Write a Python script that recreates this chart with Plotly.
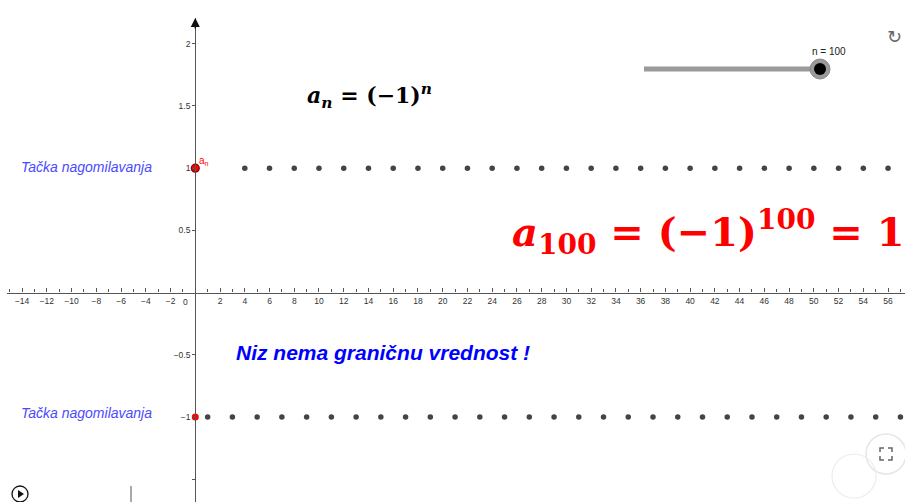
import plotly.graph_objects as go

# ---- data ----
odd_n = [1, 3, 5, 7, 9, 11, 13, 15, 17, 19, 21, 23, 25, 27, 29, 31, 33, 35, 37, 39,
         41, 43, 45, 47, 49, 51, 53, 55, 57]
odd_a = [-1, -1, -1, -1, -1, -1, -1, -1, -1, -1, -1, -1, -1, -1, -1, -1, -1, -1, -1, -1,
         -1, -1, -1, -1, -1, -1, -1, -1, -1]
even_n = [4, 6, 8, 10, 12, 14, 16, 18, 20, 22, 24, 26, 28, 30, 32, 34, 36, 38, 40, 42,
          44, 46, 48, 50, 52, 54, 56]
even_a = [1, 1, 1, 1, 1, 1, 1, 1, 1, 1, 1, 1, 1, 1, 1, 1, 1, 1, 1, 1,
          1, 1, 1, 1, 1, 1, 1]
acc_x = [0, 0]          # accumulation points drawn on the y-axis
acc_y = [1, -1]
x_ticks = [-14, -12, -10, -8, -6, -4, -2, 2, 4, 6, 8, 10, 12, 14, 16, 18, 20, 22, 24, 26,
           28, 30, 32, 34, 36, 38, 40, 42, 44, 46, 48, 50, 52, 54, 56]
y_ticks = [-1.5, -1, -0.5, 0.5, 1, 1.5, 2]
y_tick_text = ["", "\u22121", "\u22120.5", "0.5", "1", "1.5", "2"]
n_value = 100

W, H = 905, 502
def px(x):
    return x / W
def py(y):
    return 1 - y / H

fig = go.Figure()
fig.add_trace(go.Scatter(x=odd_n, y=odd_a, mode="markers",
                         marker=dict(color="#444444", size=5.5), hoverinfo="skip",
                         cliponaxis=False))
fig.add_trace(go.Scatter(x=even_n, y=even_a, mode="markers",
                         marker=dict(color="#444444", size=5.5), hoverinfo="skip",
                         cliponaxis=False))
fig.add_trace(go.Scatter(x=acc_x[:1], y=acc_y[:1], mode="markers",
                         marker=dict(color="#ff0000", size=8, line=dict(color="#8b0000", width=1.2)),
                         hoverinfo="skip", cliponaxis=False))
fig.add_trace(go.Scatter(x=acc_x[1:], y=acc_y[1:], mode="markers",
                         marker=dict(color="#ff0000", size=7), hoverinfo="skip", cliponaxis=False))

tickfont = dict(family="Liberation Sans, Arial, sans-serif", size=8.5, color="#333333")
fig.update_layout(
    width=W, height=H, margin=dict(l=0, r=0, t=0, b=0, pad=0, autoexpand=False),
    paper_bgcolor="white", plot_bgcolor="white", showlegend=False,
    xaxis=dict(domain=[7 / W, 1], range=[-15.22, 57.37], anchor="free", position=0.4173,
               automargin=False,
               showgrid=False, zeroline=False, showline=True, linecolor="#555555", linewidth=1.3,
               tickmode="array", tickvals=x_ticks, ticks="inside", ticklen=4, tickcolor="#555555",
               minor=dict(dtick=1, tick0=0, ticks="inside", ticklen=3, tickcolor="#555555"),
               tickfont=tickfont, fixedrange=True),
    yaxis=dict(domain=[0, 1 - 18 / H], range=[-1.684, 2.207], anchor="free", position=0.2158,
               automargin=False,
               showgrid=False, zeroline=False, showline=True, linecolor="#555555", linewidth=1.3,
               tickmode="array", tickvals=y_ticks, ticktext=y_tick_text, ticks="outside",
               ticklen=3, tickcolor="#555555", tickfont=tickfont, fixedrange=True),
)

ann = []
def note(x, y, text, font, xanchor="center"):
    ann.append(dict(x=px(x), y=py(y), xref="paper", yref="paper", xanchor=xanchor,
                    yanchor="middle", text=text, showarrow=False, font=font))

# origin label
note(185, 302, "0", tickfont)
# y-axis arrow
ann.append(dict(x=0, y=2.207, xref="x", yref="y", ax=0, ay=12, text="", showarrow=True,
                arrowhead=2, arrowsize=1.3, arrowwidth=1.4, arrowcolor="#111111"))
# point label
note(197, 161, "a<sub>n</sub>", dict(family="Liberation Sans, Arial", size=10, color="#ff0000"),
     xanchor="left")
# accumulation labels
for yy in (167, 413):
    note(19, yy, "<i>Ta\u010dka nagomilavanja</i>",
         dict(family="Liberation Sans, Arial", size=14, color="#4a4aff"), xanchor="left")
# formula
note(305, 96, "<b><i>a</i><sub><i>n</i></sub> = (\u22121)<sup><i>n</i></sup></b>",
     dict(family="DejaVu Serif, serif", size=22, color="#000000"), xanchor="left")
# big red formula
note(510, 232, "<b><i>a</i><sub>%d</sub> = (\u22121)<sup>%d</sup> = 1</b>" % (n_value, n_value),
     dict(family="DejaVu Serif, serif", size=40, color="#ff0000"), xanchor="left")
# blue statement
note(234, 352, "<b><i>Niz nema grani\u010dnu vrednost !</i></b>",
     dict(family="Liberation Sans, Arial", size=21, color="#0000ff"), xanchor="left")
# slider label
note(829, 51, "n = %d" % n_value, dict(family="Liberation Sans, Arial", size=10, color="#222222"))
# refresh icon
note(894, 36, "\u21bb", dict(family="DejaVu Sans", size=18, color="#666666"))
fig.update_layout(annotations=ann)

shapes = []
# slider track
shapes.append(dict(type="line", xref="paper", yref="paper", x0=px(644), y0=py(69), x1=px(820), y1=py(69),
                   line=dict(color="#9a9a9a", width=5)))
# slider knob
shapes.append(dict(type="circle", xref="paper", yref="paper", x0=px(810), y0=py(79), x1=px(830), y1=py(59),
                   fillcolor="#9a9a9a", line=dict(color="#8a8a8a", width=1)))
shapes.append(dict(type="circle", xref="paper", yref="paper", x0=px(814), y0=py(75), x1=px(826), y1=py(63),
                   fillcolor="#000000", line=dict(width=0)))
# fullscreen button
shapes.append(dict(type="circle", xref="paper", yref="paper", x0=px(866), y0=py(474), x1=px(906), y1=py(434),
                   fillcolor="white", line=dict(color="#e6e6e6", width=1.5)))
c = "#666666"
for p in ["M {} {} L {} {} L {} {}".format(px(880), py(452), px(880), py(448), px(884), py(448)),
          "M {} {} L {} {} L {} {}".format(px(888), py(448), px(892), py(448), px(892), py(452)),
          "M {} {} L {} {} L {} {}".format(px(880), py(456), px(880), py(460), px(884), py(460)),
          "M {} {} L {} {} L {} {}".format(px(888), py(460), px(892), py(460), px(892), py(456))]:
    shapes.append(dict(type="path", xref="paper", yref="paper", path=p, line=dict(color=c, width=1.5)))
# faint circle bottom right
shapes.append(dict(type="circle", xref="paper", yref="paper", x0=px(832), y0=py(498), x1=px(876), y1=py(454),
                   fillcolor="rgba(255,255,255,0)", line=dict(color="#ececec", width=1.2)))
# play button bottom left
shapes.append(dict(type="circle", xref="paper", yref="paper", x0=px(12), y0=py(502), x1=px(28), y1=py(486),
                   fillcolor="white", line=dict(color="#111111", width=1.3)))
shapes.append(dict(type="path", xref="paper", yref="paper",
                   path="M {} {} L {} {} L {} {} Z".format(px(18), py(490), px(18), py(498), px(24), py(494)),
                   fillcolor="#111111", line=dict(width=0)))
shapes.append(dict(type="line", xref="paper", yref="paper", x0=px(131), y0=py(486), x1=px(131), y1=py(502),
                   line=dict(color="#555555", width=1)))
fig.update_layout(shapes=shapes)

fig.write_html("out.html", config={"displayModeBar": False},
               post_script="document.body.style.margin='0';document.body.style.overflow='hidden';")
